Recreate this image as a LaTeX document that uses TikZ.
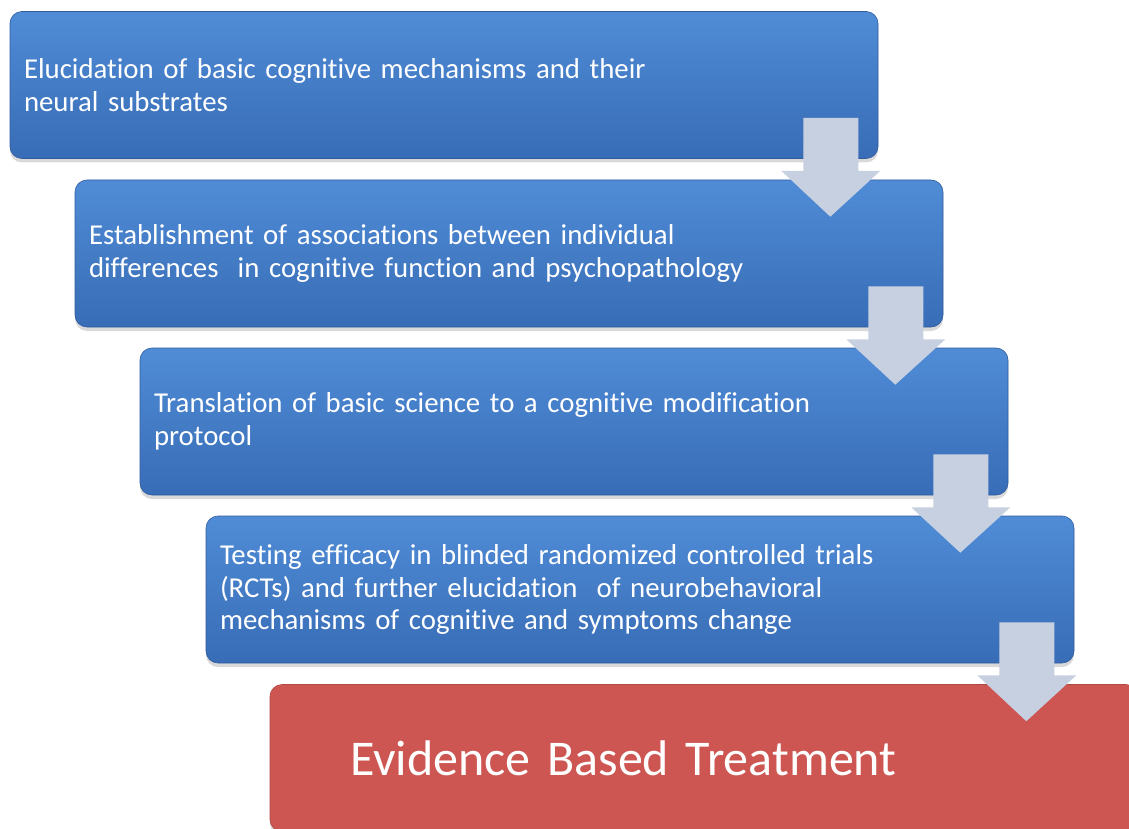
\documentclass[tikz,border=0pt]{standalone}
\usepackage{fontspec}
\setmainfont[Ligatures=NoCommon]{Carlito}
\usepackage{tikz}
\usetikzlibrary{calc,shadows}

\begin{document}
\begin{tikzpicture}
		[x=1pt,y=-1pt,line join=round,
		%Styles
		step box/.style={rectangle,rounded corners=12pt,minimum width=868pt,minimum height=147pt,
			text width=840pt,inner xsep=14pt,align=left,text=white,
			font=\fontsize{28.8}{32.5}\selectfont,draw=stepedge,line width=.6pt,
			top color=steptop,bottom color=stepbottom,
			drop shadow={shadow xshift=0pt,shadow yshift=-4pt,opacity=.3}},
		result box/.style={step box,top color=resultfill,bottom color=resultfill,draw=resultfill!85!black,
			text width=708pt,inner xsep=80pt,font=\fontsize{50}{58}\selectfont},
		block arrow/.style={fill=arrowfill}
		]

		%Colors
		\definecolor{steptop}{RGB}{80,140,214}
		\definecolor{stepbottom}{RGB}{56,108,182}
		\definecolor{stepedge}{RGB}{48,92,158}
		\definecolor{resultfill}{RGB}{205,86,82}
		\definecolor{arrowfill}{RGB}{199,208,225}

		\useasboundingbox (0,0) rectangle (1129,829);
		\clip (0,0) rectangle (1129,829);

		%The graphic
		\node[step box] (b1) at (444,85) {Elucidation of basic cognitive mechanisms and their\\neural substrates};
		\node[step box] (b2) at (509,253.5) {Establishment of associations between individual\\differences\ \ in cognitive function and psychopathology};
		\node[step box] (b3) at (574,421.5) {Translation of basic science to a cognitive modification\\protocol};
		\node[step box] (b4) at (640,589.5) {Testing efficacy in blinded randomized controlled trials\\(RCTs) and further elucidation\ \ of neurobehavioral\\mechanisms of cognitive and symptoms change};
		\node[result box] (b5) at (704,758) {Evidence Based Treatment};

		%Arrows between the steps
		\foreach \a/\b in {b1/b2,b2/b3,b3/b4,b4/b5}
			\fill[block arrow] ($(\a.south east)+(-75,-41)$) -- ($(\a.south east)+(-20,-41)$)
				-- ($(\a.south east)+(-20,12)$) -- ($(\a.south east)+(2,12)$)
				-- ($(\b.north west)!(\a.south east)!(\b.north east)+(-48,37)$)
				-- ($(\a.south east)+(-97,12)$) -- ($(\a.south east)+(-75,12)$) -- cycle;
	\end{tikzpicture}
\end{document}
